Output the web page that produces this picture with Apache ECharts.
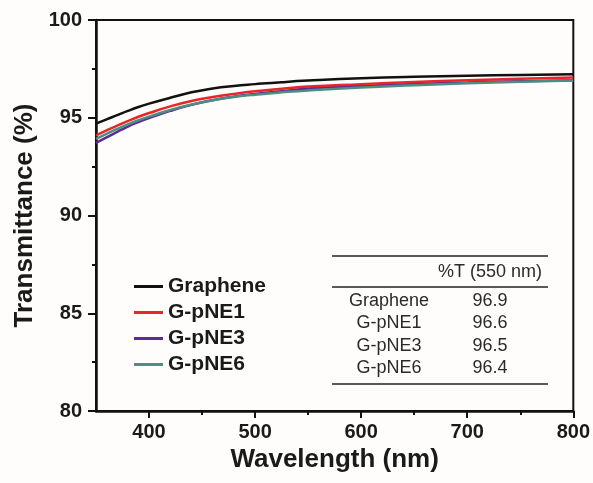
<!DOCTYPE html>
<html>
<head>
<meta charset="utf-8">
<script src="https://cdn.jsdelivr.net/npm/echarts@6/dist/echarts.min.js"></script>
<style>
  html, body { margin: 0; padding: 0; background: #fefdfb; }
  #chart { width: 593px; height: 483px; }
</style>
</head>
<body>
<div id="chart"></div>
<script>
// Wavelength samples (nm)
const wavelengths = [350, 360, 370, 380, 390, 400, 420, 440, 460, 480, 500, 525, 550, 600, 650, 700, 750, 800];

// Transmittance (%) for each film
const graphene = [94.70, 94.92, 95.13, 95.35, 95.55, 95.72, 96.02, 96.30, 96.50, 96.63, 96.72, 96.82, 96.90, 97.02, 97.10, 97.15, 97.19, 97.22];
const gpne1    = [94.10, 94.35, 94.60, 94.83, 95.05, 95.24, 95.58, 95.86, 96.06, 96.22, 96.36, 96.48, 96.60, 96.72, 96.83, 96.92, 97.00, 97.06];
const gpne3    = [93.72, 94.00, 94.28, 94.55, 94.78, 94.98, 95.35, 95.66, 95.90, 96.08, 96.22, 96.36, 96.50, 96.62, 96.72, 96.80, 96.87, 96.92];
const gpne6    = [93.92, 94.18, 94.43, 94.66, 94.87, 95.06, 95.40, 95.68, 95.90, 96.06, 96.18, 96.30, 96.40, 96.55, 96.66, 96.76, 96.84, 96.90];

// Inset table: transmittance at 550 nm
const tableNames  = ['Graphene', 'G-pNE1', 'G-pNE3', 'G-pNE6'];
const tableValues = [96.9, 96.6, 96.5, 96.4];
const tableHeader = '%T (550 nm)';

// Axis ticks
const xMajorTicks = [400, 500, 600, 700, 800];
const xMinorTicks = [450, 550, 650, 750];

const seriesNames  = ['Graphene', 'G-pNE1', 'G-pNE3', 'G-pNE6'];
const seriesData   = [graphene, gpne1, gpne3, gpne6];
const seriesColors = ['#111111', '#e8262a', '#5b2c92', '#4e8e80'];
const seriesZ      = [5, 4, 2, 3];

const pairs = arr => wavelengths.map((w, i) => [w, arr[i]]);

const FONT = '"Liberation Sans", Arial, sans-serif';
const INK = '#1a1a1a';

const chart = echarts.init(document.getElementById('chart'), null, { renderer: 'canvas' });

// Table layout
const tblLeft = 332, tblRight = 548;
const nameX = 389, valX = 490;
const rowY = [301, 323.5, 346, 368.5];
const tableGraphics = [
  { type: 'line', shape: { x1: tblLeft, y1: 256, x2: tblRight, y2: 256 }, style: { stroke: '#222', lineWidth: 1.3 } },
  { type: 'line', shape: { x1: tblLeft, y1: 287, x2: tblRight, y2: 287 }, style: { stroke: '#222', lineWidth: 1.3 } },
  { type: 'line', shape: { x1: tblLeft, y1: 384, x2: tblRight, y2: 384 }, style: { stroke: '#222', lineWidth: 1.3 } },
  { type: 'text', x: valX, y: 272.5, style: { text: tableHeader, font: '18px ' + FONT, fill: '#2a2a2a', textAlign: 'center', textVerticalAlign: 'middle' } }
];
tableNames.forEach((n, i) => {
  tableGraphics.push({ type: 'text', x: nameX, y: rowY[i], style: { text: n, font: '18px ' + FONT, fill: '#2a2a2a', textAlign: 'center', textVerticalAlign: 'middle' } });
  tableGraphics.push({ type: 'text', x: valX, y: rowY[i], style: { text: tableValues[i].toFixed(1), font: '18px ' + FONT, fill: '#2a2a2a', textAlign: 'center', textVerticalAlign: 'middle' } });
});

const option = {
  backgroundColor: '#fefdfb',
  animation: false,
  grid: {
    left: 96, top: 20, right: 17, bottom: 72,
    show: true, borderColor: '#111', borderWidth: 2, backgroundColor: 'transparent'
  },
  legend: {
    orient: 'vertical',
    left: 134, top: 276,
    padding: 0,
    icon: 'rect',
    itemWidth: 29, itemHeight: 3,
    itemGap: 5,
    data: seriesNames,
    textStyle: { fontFamily: FONT, fontWeight: 'bold', fontSize: 21, color: INK, lineHeight: 21 }
  },
  xAxis: [
    {
      type: 'value', min: 350, max: 800,
      name: 'Wavelength (nm)', nameLocation: 'middle', nameGap: 36,
      nameTextStyle: { fontFamily: FONT, fontWeight: 'bold', fontSize: 26, color: INK },
      axisLine: { show: true, onZero: false, lineStyle: { color: '#111', width: 2.5 } },
      axisTick: { show: true, inside: false, length: 7, lineStyle: { color: '#111', width: 2 }, customValues: xMajorTicks },
      axisLabel: { fontFamily: FONT, fontWeight: 'bold', fontSize: 20, color: INK, margin: 11, customValues: xMajorTicks },
      splitLine: { show: false }
    },
    {
      type: 'value', min: 350, max: 800, position: 'bottom',
      axisLine: { show: false, onZero: false },
      axisTick: { show: true, inside: false, length: 4, lineStyle: { color: '#111', width: 2 }, customValues: xMinorTicks },
      axisLabel: { show: false },
      splitLine: { show: false }
    }
  ],
  yAxis: {
    type: 'value', min: 80, max: 100, interval: 5,
    name: 'Transmittance (%)', nameLocation: 'middle', nameGap: 58,
    nameTextStyle: { fontFamily: FONT, fontWeight: 'bold', fontSize: 26, color: INK },
    axisLine: { show: true, onZero: false, lineStyle: { color: '#111', width: 2.5 } },
    axisTick: { show: true, inside: false, length: 8, lineStyle: { color: '#111', width: 2 } },
    minorTick: { show: true, splitNumber: 2, length: 4, lineStyle: { color: '#111', width: 2 } },
    axisLabel: { fontFamily: FONT, fontWeight: 'bold', fontSize: 20, color: INK, margin: 14 },
    splitLine: { show: false }
  },
  series: seriesNames.map((name, i) => ({
    name,
    type: 'line',
    xAxisIndex: 0,
    data: pairs(seriesData[i]),
    smooth: true,
    showSymbol: false,
    z: seriesZ[i],
    itemStyle: { color: seriesColors[i] },
    lineStyle: { color: seriesColors[i], width: 2.5 }
  })),
  graphic: tableGraphics
};

chart.setOption(option);
</script>
</body>
</html>
